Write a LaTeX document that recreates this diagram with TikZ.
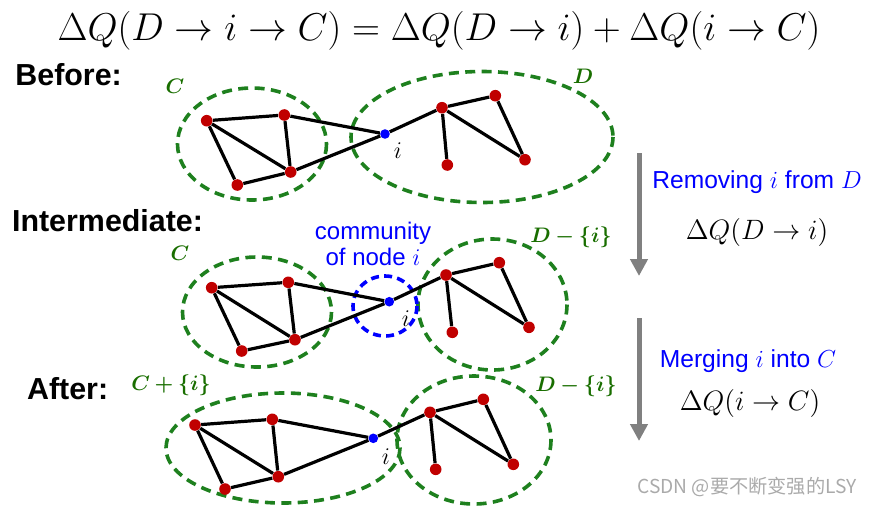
\documentclass[tikz,border=0pt]{standalone}
\usepackage{fix-cm}
\usepackage{fontspec}
\setmainfont{Liberation Sans}
\newfontfamily\cjkfont{Noto Sans CJK SC}
\usepackage{amsmath, amssymb, bm}
\usetikzlibrary{arrows.meta}
\definecolor{vertexred}{RGB}{192, 0, 0}
\definecolor{vertexblue}{RGB}{0, 0, 255}
\definecolor{commgreen}{RGB}{30, 128, 30}
\definecolor{labelgreen}{RGB}{25, 110, 0}
\definecolor{arrowgray}{RGB}{128, 128, 128}
\definecolor{markgray}{RGB}{170, 170, 170}
\tikzset{
    vertex/.style={circle, fill=vertexred, inner sep=0pt, minimum size=5.8pt},
    ivertex/.style={circle, fill=vertexblue, inner sep=0pt, minimum size=4.8pt},
    link/.style={line width=1.6pt},
    community/.style={draw=commgreen, line width=1.8pt, dash pattern=on 5pt off 3.2pt},
    nodecomm/.style={draw=vertexblue, line width=1.8pt, dash pattern=on 4pt off 2.6pt},
    rowlabel/.style={anchor=base west, inner sep=0pt, font=\fontsize{15.2}{18}\selectfont\bfseries},
    grouplabel/.style={text=labelgreen, font=\fontsize{10.5}{12}\selectfont},
    ilabel/.style={font=\fontsize{12}{14}\selectfont, inner sep=0pt},
    bluetext/.style={text=vertexblue, font=\fontsize{12.3}{15}\selectfont, align=center},
    steparrow/.style={-{Triangle[length=8.5pt, width=8.5pt]}, line width=2.5pt, draw=arrowgray},
    deltatext/.style={font=\fontsize{14}{16}\selectfont},
}

\begin{document}
\begin{tikzpicture}[x=0.5pt, y=-0.5pt]
    \useasboundingbox (0, 0) rectangle (872, 505);

    % Title
    \node[anchor=base, inner sep=0pt, font=\fontsize{19.4}{23}\selectfont] (title) at (439, 40)
        {$\Delta Q(D \rightarrow i \rightarrow C) = \Delta Q(D \rightarrow i) + \Delta Q(i \rightarrow C)$};

    % Before
    \node[rowlabel] (before) at (15, 85.7) {Before:};
    \draw[community] (252, 144) ellipse (74.5 and 56);
    \draw[community] (482, 137) ellipse (131 and 65.5);
    \node[grouplabel] (bClab) at (175, 86) {$\bm{C}$};
    \node[grouplabel] (bDlab) at (583, 76) {$\bm{D}$};
    \node[vertex] (bC1) at (206.7, 120.7) {};
    \node[vertex] (bC2) at (284.3, 115) {};
    \node[vertex] (bC3) at (290.7, 172) {};
    \node[vertex] (bC4) at (237.3, 185) {};
    \node[ivertex] (bi) at (385, 134) {};
    \node[vertex] (bD1) at (442, 107.7) {};
    \node[vertex] (bD2) at (495.3, 95.7) {};
    \node[vertex] (bD3) at (447.3, 165) {};
    \node[vertex] (bD4) at (525, 159.7) {};
    \node[ilabel] (bilab) at (398, 151) {$i$};
    \draw[link] (bC1) -- (bC2) (bC1) -- (bC3) (bC1) -- (bC4) (bC2) -- (bC3) (bC3) -- (bC4);
    \draw[link] (bC2) -- (bi) (bC3) -- (bi) (bi) -- (bD1);
    \draw[link] (bD1) -- (bD2) (bD1) -- (bD3) (bD1) -- (bD4) (bD2) -- (bD4);

    % Intermediate
    \node[rowlabel] (inter) at (11.7, 231.7) {Intermediate:};
    \draw[community] (257, 312) ellipse (74.5 and 55);
    \draw[community] (492.5, 304.5) ellipse (74.5 and 65.5);
    \draw[nodecomm] (385, 306) ellipse (32 and 30);
    \node[grouplabel] (mClab) at (180, 253) {$\bm{C}$};
    \node[grouplabel] (mDlab) at (571, 237) {$\bm{D-\{i\}}$};
    \node[bluetext, font=\fontsize{12}{15}\selectfont] (commtext) at (373, 244) {community\\[-2pt] of node $i$};
    \node[vertex] (mC1) at (211.7, 287.7) {};
    \node[vertex] (mC2) at (288.3, 282.3) {};
    \node[vertex] (mC3) at (295, 339.7) {};
    \node[vertex] (mC4) at (241.7, 351) {};
    \node[ivertex] (mi) at (389.3, 301.7) {};
    \node[vertex] (mD1) at (446, 275) {};
    \node[vertex] (mD2) at (499.3, 262.7) {};
    \node[vertex] (mD3) at (452.3, 332.3) {};
    \node[vertex] (mD4) at (529, 327.3) {};
    \node[ilabel] (milab) at (406, 319) {$i$};
    \draw[link] (mC1) -- (mC2) (mC1) -- (mC3) (mC1) -- (mC4) (mC2) -- (mC3) (mC3) -- (mC4);
    \draw[link] (mC2) -- (mi) (mC3) -- (mi) (mi) -- (mD1);
    \draw[link] (mD1) -- (mD2) (mD1) -- (mD3) (mD1) -- (mD4) (mD2) -- (mD4);

    % After
    \node[rowlabel] (after) at (26.7, 399) {After:};
    \draw[community] (283, 448) ellipse (117 and 55);
    \draw[community] (474, 440) ellipse (77 and 64);
    \node[grouplabel] (aClab) at (171, 385) {$\bm{C+\{i\}}$};
    \node[grouplabel] (aDlab) at (576, 386) {$\bm{D-\{i\}}$};
    \node[vertex] (aC1) at (195, 425) {};
    \node[vertex] (aC2) at (272.3, 419.3) {};
    \node[vertex] (aC3) at (278.3, 476.7) {};
    \node[vertex] (aC4) at (225, 489) {};
    \node[ivertex] (ai) at (373.3, 438.3) {};
    \node[vertex] (aD1) at (430, 412.3) {};
    \node[vertex] (aD2) at (483.3, 399.3) {};
    \node[vertex] (aD3) at (435.7, 469.3) {};
    \node[vertex] (aD4) at (513.3, 464.3) {};
    \node[ilabel] (ailab) at (386, 457) {$i$};
    \draw[link] (aC1) -- (aC2) (aC1) -- (aC3) (aC1) -- (aC4) (aC2) -- (aC3) (aC3) -- (aC4);
    \draw[link] (aC2) -- (ai) (aC3) -- (ai) (ai) -- (aD1);
    \draw[link] (aD1) -- (aD2) (aD1) -- (aD3) (aD1) -- (aD4) (aD2) -- (aD4);

    % Steps
    \coordinate (rmtop) at (639, 153);
    \coordinate (rmbot) at (639, 276);
    \coordinate (mgtop) at (639, 318);
    \coordinate (mgbot) at (639, 441);
    \draw[steparrow] (rmtop) -- (rmbot);
    \draw[steparrow] (mgtop) -- (mgbot);
    \node[bluetext] (rmtext) at (757, 182) {Removing $i$ from $D$};
    \node[deltatext] (rmdelta) at (757, 232) {$\Delta Q(D \rightarrow i)$};
    \node[bluetext] (mgtext) at (748, 361) {Merging $i$ into $C$};
    \node[deltatext] (mgdelta) at (750, 403) {$\Delta Q(i \rightarrow C)$};

    % Watermark
    \node[anchor=base east, inner sep=0pt, text=markgray, font=\cjkfont\fontsize{9.6}{11}\selectfont] (mark) at (857, 493) {CSDN @要不断变强的LSY};
\end{tikzpicture}
\end{document}
